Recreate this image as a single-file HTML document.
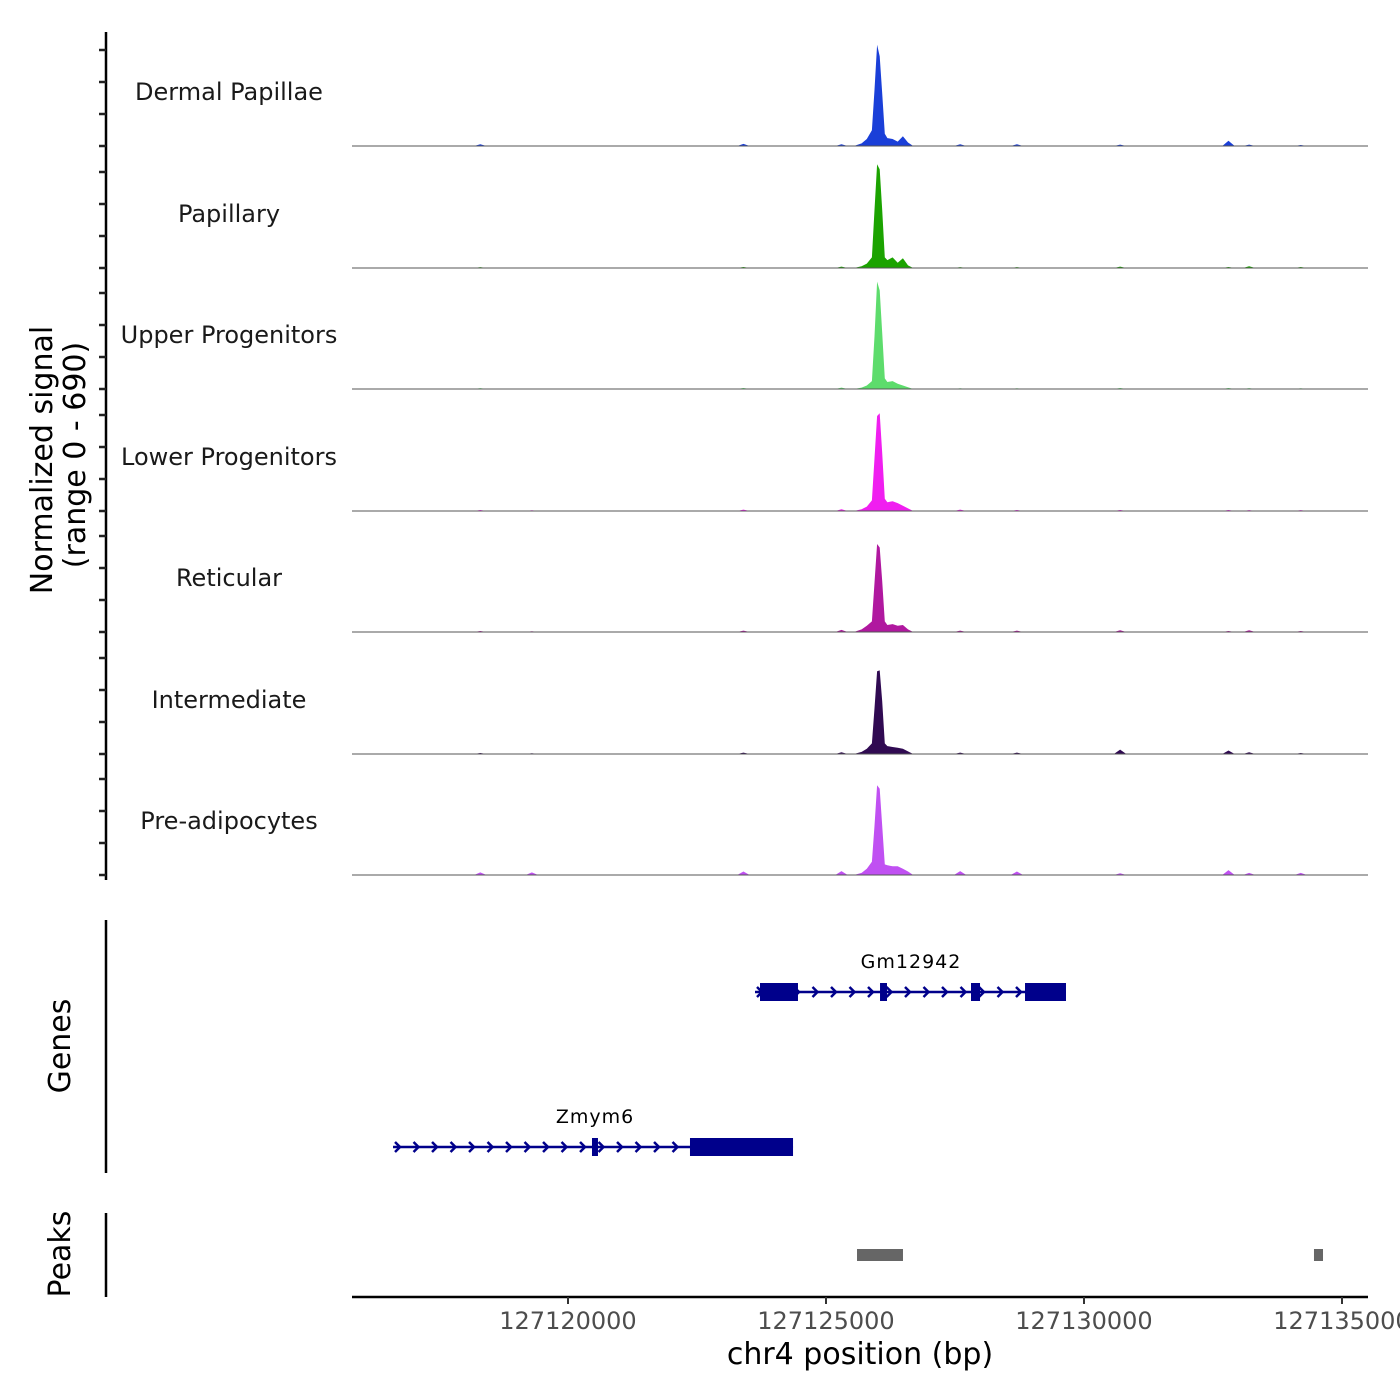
<!DOCTYPE html>
<html><head><meta charset="utf-8"><style>
body{margin:0;background:#fff}
svg{display:block;font-family:"DejaVu Sans","Liberation Sans",sans-serif}
</style></head><body>
<svg id="chart" width="1400" height="1400" viewBox="0 0 1400 1400">
<g id="axes"></g>
<g id="tracks"></g>
<g id="genes"></g>
<g id="peaks"></g>
</svg>
<script>
// ---- data ----
const trackNames = ["Dermal Papillae","Papillary","Upper Progenitors","Lower Progenitors","Reticular","Intermediate","Pre-adipocytes"];
const trackColors = ["#1a3fd8","#1ba300","#5ddc6c","#f01ef0","#b0189f","#300a52","#c050f2"];
const peakPos = [127125540,127125690,127125790,127125890,127125940,127125990,127126040,127126090,127126140,127126190,127126290,127126390,127126490,127126590,127126690];
const peakDP  = [0,15,40,90,320,575,510,300,70,45,40,25,55,20,0];
const peakPap = [0,10,25,60,330,590,560,330,60,45,60,30,55,15,0];
const peakUP  = [0,8,20,45,300,610,560,320,60,40,45,30,20,10,0];
const peakLP  = [0,10,25,60,300,540,555,330,70,50,55,45,30,15,0];
const peakRet = [0,15,35,60,280,500,480,290,60,40,45,35,40,15,0];
const peakInt = [0,12,30,60,260,470,475,300,60,45,40,35,30,15,0];
const peakPre = [0,12,35,75,280,510,490,280,60,55,50,50,35,20,0];
const peakVals = [peakDP,peakPap,peakUP,peakLP,peakRet,peakInt,peakPre];
const bumpPos = [127118300,127119300,127123400,127125300,127127600,127128700,127130700,127132800,127133200,127134200];
const bumpDP  = [10,0,12,10,10,10,8,30,8,6];
const bumpPap = [5,0,6,8,5,5,8,6,10,6];
const bumpUP  = [5,0,6,8,4,4,6,6,5,4];
const bumpLP  = [6,4,8,10,8,6,6,6,5,5];
const bumpRet = [6,4,8,12,8,8,10,6,10,6];
const bumpInt = [6,4,8,10,8,8,25,20,10,6];
const bumpPre = [15,15,20,22,22,20,10,28,12,12];
const bumpVals = [bumpDP,bumpPap,bumpUP,bumpLP,bumpRet,bumpInt,bumpPre];
const xTicks = [127120000,127125000,127130000,127135000];
const xTickLabels = ["127120000","127125000","127130000","127135000"];
const geneNames = ["Gm12942","Zmym6"];
const geneStart = [127123624,127116609];
const geneEnd = [127129651,127124361];
const geneExons = [[[127123721,127124457],[127126047,127126182],[127127810,127127985],[127128857,127129651]],[[127120465,127120581],[127122364,127124361]]];
const peakRegionStart = [127125601,127134457];
const peakRegionEnd = [127126492,127134632];
// ---- scales ----
const X0=352,X1=1368,BP0=127115814,PXBP=0.0516;
const xs = bp => X0+(bp-BP0)*PXBP;
const baselines=[146,268,389,511,632,754,875];
const ys = (v,i) => baselines[i]-v*0.176;
const NS="http://www.w3.org/2000/svg";
function mk(tag,attrs,parent,text){const e=document.createElementNS(NS,tag);for(const k in attrs)e.setAttribute(k,attrs[k]);if(text!==undefined)e.textContent=text;parent.appendChild(e);return e;}
const axes=document.getElementById('axes'),tracks=document.getElementById('tracks'),genes=document.getElementById('genes'),peaks=document.getElementById('peaks');
mk('line',{x1:106,y1:32,x2:106,y2:880,stroke:'#000','stroke-width':2.5},axes);
baselines.forEach(b=>{[96,64,32,0].forEach(o=>{mk('line',{x1:99,y1:b-o,x2:106,y2:b-o,stroke:'#222','stroke-width':2.5},axes);});});
let t=mk('text',{x:0,y:0,'font-size':30,'text-anchor':'middle',transform:'translate(52,460) rotate(-90)'},axes,'Normalized signal');

t=mk('text',{x:0,y:0,'font-size':30,'text-anchor':'middle',transform:'translate(85,455) rotate(-90)'},axes,'(range 0 - 690)');

mk('line',{x1:106,y1:920,x2:106,y2:1173,stroke:'#000','stroke-width':2.5},axes);
t=mk('text',{x:0,y:0,'font-size':30,'text-anchor':'middle',transform:'translate(70,1046) rotate(-90)'},axes,'Genes');

mk('line',{x1:106,y1:1213,x2:106,y2:1297,stroke:'#000','stroke-width':2.5},axes);
t=mk('text',{x:0,y:0,'font-size':30,'text-anchor':'middle',transform:'translate(70,1254) rotate(-90)'},axes,'Peaks');

mk('line',{x1:352,y1:1297,x2:1368,y2:1297,stroke:'#000','stroke-width':2.5},axes);
xTicks.forEach((v,i)=>{
  mk('line',{x1:xs(v),y1:1297,x2:xs(v),y2:1304,stroke:'#333','stroke-width':2},axes);
  const l=mk('text',{x:xs(v),y:1329,'font-size':24,fill:'#4d4d4d','text-anchor':'middle'},axes,xTickLabels[i]);
  
});
t=mk('text',{x:860,y:1364,'font-size':30,'text-anchor':'middle'},axes,'chr4 position (bp)');

trackNames.forEach((n,i)=>{
  const g=mk('g',{},tracks);
  
  
  const lab=mk('text',{x:229,y:baselines[i]-46,'font-size':24,fill:'#1a1a1a','text-anchor':'middle'},g,n);
  
  let d='M'+xs(peakPos[0])+','+baselines[i];
  peakPos.forEach((p,j)=>{d+=' L'+xs(p).toFixed(1)+','+ys(peakVals[i][j],i).toFixed(1);});
  d+=' L'+xs(peakPos[peakPos.length-1])+','+baselines[i]+'Z';
  const pk=mk('path',{d:d,fill:trackColors[i]},g);
  
  bumpPos.forEach((p,j)=>{
    const v=bumpVals[i][j];if(!v)return;
    const b=mk('path',{d:`M${xs(p-120)},${baselines[i]} L${xs(p)},${ys(v,i)} L${xs(p+120)},${baselines[i]}Z`,fill:trackColors[i]},g);
    
  });
  mk('line',{x1:352,y1:baselines[i],x2:1368,y2:baselines[i],stroke:'#555','stroke-width':1},g);
});
const geneY=[992,1147];
geneNames.forEach((n,i)=>{
  const g=mk('g',{},genes);
  
  
  const y=geneY[i],c='#00008b';
  mk('line',{x1:xs(geneStart[i]),y1:y,x2:xs(geneEnd[i]),y2:y,stroke:c,'stroke-width':2.5},g);
  for(let x=xs(geneStart[i])+2;x<xs(geneEnd[i]);x+=18.5){
    mk('path',{d:`M${x},${y-5} L${x+5},${y} L${x},${y+5}`,stroke:c,'stroke-width':2.5,fill:'none'},g);
  }
  geneExons[i].forEach(e=>{mk('rect',{x:xs(e[0]),y:y-9,width:xs(e[1])-xs(e[0]),height:18,fill:c},g);});
  const lab=mk('text',{x:(i==0?911:595),y:y-24,'font-size':19,'text-anchor':'middle',fill:'#000','letter-spacing':1},g,n);
  
});
peakRegionStart.forEach((s,i)=>{
  const r=mk('rect',{x:xs(s),y:1249,width:xs(peakRegionEnd[i])-xs(s),height:12,fill:'#666'},peaks);
  
});
</script>
</body></html>
